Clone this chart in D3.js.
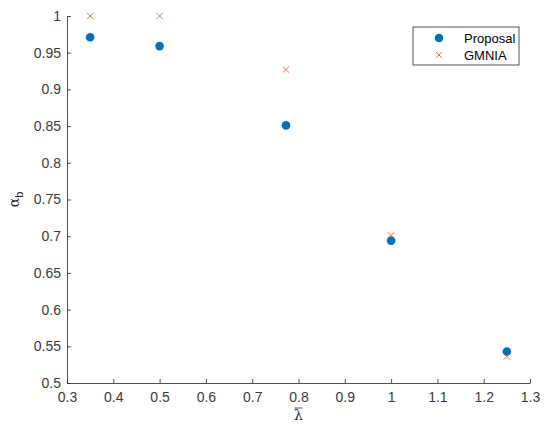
<!DOCTYPE html>
<html>
<head>
<meta charset="utf-8">
<script src="https://cdn.jsdelivr.net/npm/d3@7"></script>
<style>
  body { margin: 0; background: #fff; }
  svg { font-family: "Liberation Sans", Arial, sans-serif; }
</style>
</head>
<body>
<div id="chart"></div>
<script>
// data
const lambdaVals = [0.35, 0.5, 0.773, 1.0, 1.25];
const proposal = [0.971, 0.959, 0.851, 0.694, 0.543];
const gmnia = [1.0, 1.0, 0.927, 0.701, 0.536];
const xTicks = [0.3, 0.4, 0.5, 0.6, 0.7, 0.8, 0.9, 1, 1.1, 1.2, 1.3];
const yTicks = [0.5, 0.55, 0.6, 0.65, 0.7, 0.75, 0.8, 0.85, 0.9, 0.95, 1];
const seriesNames = ["Proposal", "GMNIA"];

const width = 550, height = 432;
const margin = { top: 16, right: 20, bottom: 49, left: 67 };

const svg = d3.select('#chart')
  .append('svg')
  .attr('width', width)
  .attr('height', height);

const x = d3.scaleLinear().domain([0.3, 1.3]).range([margin.left, width - margin.right]);
const y = d3.scaleLinear().domain([0.5, 1]).range([height - margin.bottom, margin.top]);

const axisColor = '#262626';

// x axis, ticks pointing inward
const xAxis = svg.append('g')
  .attr('transform', `translate(0, ${height - margin.bottom})`)
  .call(d3.axisBottom(x).tickValues(xTicks).tickFormat(d3.format('~g')).tickSizeInner(-4).tickSizeOuter(0).tickPadding(9));

// y axis
const yAxis = svg.append('g')
  .attr('transform', `translate(${margin.left}, 0)`)
  .call(d3.axisLeft(y).tickValues(yTicks).tickFormat(d3.format('~g')).tickSizeInner(-4).tickSizeOuter(0).tickPadding(6));

[xAxis, yAxis].forEach(g => {
  g.select('.domain').attr('stroke', axisColor).attr('stroke-width', 0.8);
  g.selectAll('.tick line').attr('stroke', axisColor).attr('stroke-width', 0.8);
  g.selectAll('.tick text').attr('fill', '#3a3a3a').style('font-size', '14px');
});

// axis labels
const xl = svg.append('text')
  .attr('x', (margin.left + width - margin.right) / 2)
  .attr('y', height - 12)
  .attr('text-anchor', 'middle')
  .attr('fill', axisColor)
  .style('font-family', '"DejaVu Serif", serif')
  .style('font-size', '14px')
  .text('λ');
svg.append('line')
  .attr('x1', (margin.left + width - margin.right) / 2 - 4)
  .attr('x2', (margin.left + width - margin.right) / 2 + 4)
  .attr('y1', height - 24).attr('y2', height - 24)
  .attr('stroke', axisColor).attr('stroke-width', 0.8);

const yl = svg.append('text')
  .attr('transform', `translate(19, ${(margin.top + height - margin.bottom) / 2}) rotate(-90)`)
  .attr('text-anchor', 'middle')
  .attr('fill', axisColor)
  .style('font-size', '14px');
yl.append('tspan').style('font-family', '"DejaVu Serif", serif').text('α');
yl.append('tspan').attr('dy', 4).style('font-size', '11px').text('b');

// Proposal markers
svg.selectAll('.prop')
  .data(lambdaVals)
  .enter()
  .append('circle')
  .attr('class', 'prop')
  .attr('cx', d => x(d))
  .attr('cy', (d, i) => y(proposal[i]))
  .attr('r', 4.3)
  .attr('fill', '#0072BD');

// GMNIA markers
const cross = d3.symbol().type(d3.symbolX).size(28);
svg.selectAll('.gm')
  .data(lambdaVals)
  .enter()
  .append('path')
  .attr('class', 'gm')
  .attr('d', cross)
  .attr('transform', (d, i) => `translate(${x(d)}, ${y(gmnia[i])})`)
  .attr('fill', 'none')
  .attr('stroke', '#D95319')
  .attr('stroke-width', 0.8);

// legend
const lg = svg.append('g').attr('transform', 'translate(413, 27)');
lg.append('rect')
  .attr('width', 106).attr('height', 38)
  .attr('fill', '#fff')
  .attr('stroke', axisColor).attr('stroke-width', 0.8);
lg.append('circle').attr('cx', 26).attr('cy', 11).attr('r', 4.3).attr('fill', '#0072BD');
lg.append('path').attr('d', cross).attr('transform', 'translate(26, 28)')
  .attr('fill', 'none').attr('stroke', '#D95319').attr('stroke-width', 0.8);
seriesNames.forEach((name, i) => {
  lg.append('text')
    .attr('x', 51).attr('y', 11 + i * 17)
    .attr('dy', '0.35em')
    .attr('fill', '#000')
    .style('font-size', '13px')
    .text(name);
});
</script>
</body>
</html>
